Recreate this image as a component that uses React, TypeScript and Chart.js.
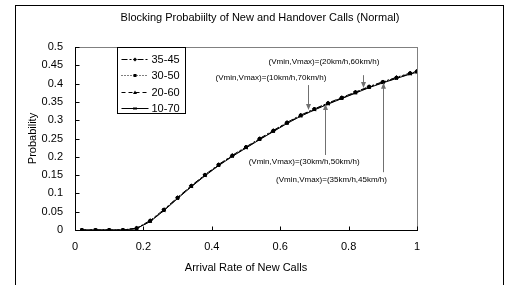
import React, { useEffect, useRef } from "react";
import { Chart, registerables } from "chart.js";
Chart.register(...registerables);

// ---- data ----
const arrivalRates = [0.02, 0.06, 0.1, 0.14, 0.18, 0.22, 0.26, 0.3, 0.34, 0.38, 0.42, 0.46, 0.5, 0.54, 0.58, 0.62, 0.66, 0.7, 0.74, 0.78, 0.82, 0.86, 0.9, 0.94, 0.98, 1.0];
const series3545 = [0, 0, 0, 0, 0.005, 0.026, 0.056, 0.089, 0.121, 0.151, 0.179, 0.204, 0.227, 0.25, 0.272, 0.294, 0.314, 0.331, 0.347, 0.362, 0.377, 0.392, 0.405, 0.417, 0.429, 0.434];
const series3050 = [0, 0, 0, 0, 0.005, 0.025, 0.055, 0.088, 0.12, 0.15, 0.178, 0.203, 0.226, 0.249, 0.271, 0.293, 0.313, 0.33, 0.346, 0.361, 0.376, 0.391, 0.404, 0.416, 0.428, 0.433];
const series2060 = [0, 0, 0, 0, 0.004, 0.024, 0.054, 0.087, 0.119, 0.149, 0.177, 0.202, 0.225, 0.248, 0.27, 0.292, 0.312, 0.329, 0.345, 0.36, 0.375, 0.39, 0.403, 0.415, 0.427, 0.432];
const series1070 = [0, 0, 0, 0, 0.004, 0.023, 0.053, 0.086, 0.118, 0.148, 0.176, 0.201, 0.224, 0.247, 0.269, 0.291, 0.311, 0.328, 0.344, 0.359, 0.374, 0.389, 0.402, 0.414, 0.426, 0.431];
const seriesLabels = ["35-45", "30-50", "20-60", "10-70"];
const xTickValues = [0, 0.2, 0.4, 0.6, 0.8, 1];
const yTickValues = [0, 0.05, 0.1, 0.15, 0.2, 0.25, 0.3, 0.35, 0.4, 0.45, 0.5];

// annotations (data coordinates)
const annotationTexts = [
  "(Vmin,Vmax)=(20km/h,60km/h)",
  "(Vmin,Vmax)=(10km/h,70km/h)",
  "(Vmin,Vmax)=(30km/h,50km/h)",
  "(Vmin,Vmax)=(35km/h,45km/h)",
];
const annotationTextX = [0.728, 0.573, 0.67, 0.75];
const annotationTextY = [0.459, 0.415, 0.186, 0.137];
const arrowX = [0.842, 0.681, 0.731, 0.9];
const arrowFromY = [0.423, 0.396, 0.205, 0.158];
const arrowToY = [0.388, 0.328, 0.344, 0.402];

const FONT = "'Liberation Sans', Arial, sans-serif";

const dashes = [[6, 2, 2, 2, 2, 2], [1, 2], [4, 3], []];
const pointStyles = ["rectRot", "rect", "triangle", "crossRot"];
const seriesValues = [series3545, series3050, series2060, series1070];

function drawMarker(ctx: CanvasRenderingContext2D, style: string, x: number, y: number, r: number) {
  ctx.save();
  ctx.fillStyle = "#000";
  ctx.strokeStyle = "#000";
  ctx.lineWidth = 1;
  ctx.setLineDash([]);
  ctx.beginPath();
  if (style === "rect") {
    ctx.fillRect(x - r, y - r, 2 * r, 2 * r);
  } else if (style === "rectRot") {
    ctx.moveTo(x, y - r - 0.5);
    ctx.lineTo(x + r + 0.5, y);
    ctx.lineTo(x, y + r + 0.5);
    ctx.lineTo(x - r - 0.5, y);
    ctx.closePath();
    ctx.fill();
  } else if (style === "triangle") {
    ctx.moveTo(x, y - r - 0.5);
    ctx.lineTo(x + r + 0.5, y + r);
    ctx.lineTo(x - r - 0.5, y + r);
    ctx.closePath();
    ctx.fill();
  } else {
    ctx.moveTo(x - r, y - r);
    ctx.lineTo(x + r, y + r);
    ctx.moveTo(x + r, y - r);
    ctx.lineTo(x - r, y + r);
    ctx.stroke();
  }
  ctx.restore();
}

const framePlugin = {
  id: "framePlugin",
  beforeDraw(chart: any) {
    const { ctx, chartArea: a } = chart;
    ctx.save();
    ctx.fillStyle = "#fff";
    ctx.fillRect(0, 0, chart.width, chart.height);
    // outer frame (no bottom edge visible)
    ctx.strokeStyle = "#000";
    ctx.lineWidth = 1;
    ctx.strokeRect(15.5, 5.5, 488, 300);
    // plot box
    ctx.strokeStyle = "#808080";
    ctx.strokeRect(Math.round(a.left) + 0.5, Math.round(a.top) + 0.5, Math.round(a.right - a.left), Math.round(a.bottom - a.top));
    ctx.restore();
  },
  beforeDatasetsDraw(chart: any) {
    const { ctx, chartArea: a, scales } = chart;
    const xs = scales.x, ys = scales.y;
    ctx.save();
    ctx.strokeStyle = "#000";
    ctx.lineWidth = 1;
    const L = Math.round(a.left) + 0.5;
    const B = Math.round(a.bottom) + 0.5;
    ctx.beginPath();
    ctx.moveTo(L, Math.round(a.top));
    ctx.lineTo(L, B);
    ctx.lineTo(Math.round(a.right) + 1, B);
    for (const v of yTickValues) {
      const y = Math.round(ys.getPixelForValue(v)) + 0.5;
      ctx.moveTo(L, y);
      ctx.lineTo(L + 4, y);
    }
    for (const v of xTickValues) {
      const x = Math.round(xs.getPixelForValue(v)) + 0.5;
      ctx.moveTo(x, B);
      ctx.lineTo(x, B - 4);
    }
    ctx.stroke();
    ctx.restore();
  },
  afterDraw(chart: any) {
    const { ctx, chartArea: a, scales } = chart;
    const xs = scales.x, ys = scales.y;
    ctx.save();
    // title
    ctx.fillStyle = "#000";
    ctx.font = `11px ${FONT}`;
    ctx.textAlign = "center";
    ctx.textBaseline = "middle";
    ctx.fillText("Blocking Probabiilty of New and Handover Calls (Normal)", 260, 18);
    // x title
    ctx.fillText("Arrival Rate of New Calls", (a.left + a.right) / 2, 268);
    // y title
    ctx.save();
    ctx.translate(33, (a.top + a.bottom) / 2);
    ctx.rotate(-Math.PI / 2);
    ctx.fillText("Probability", 0, 0);
    ctx.restore();

    // legend
    const lx = Math.round(a.left) + 42.5;
    const ly = Math.round(a.top) + 0.5;
    const lw = 68, lh = 66;
    ctx.fillStyle = "#fff";
    ctx.fillRect(lx, ly, lw, lh);
    ctx.strokeStyle = "#000";
    ctx.lineWidth = 1;
    ctx.strokeRect(lx, ly, lw, lh);
    seriesLabels.forEach((lab, i) => {
      const cy = Math.round(ly + 11 + i * 16.5) + 0.5;
      ctx.save();
      ctx.strokeStyle = "#000";
      ctx.setLineDash(dashes[i]);
      ctx.beginPath();
      ctx.moveTo(lx + 4, cy);
      ctx.lineTo(lx + 31, cy);
      ctx.stroke();
      ctx.restore();
      drawMarker(ctx, pointStyles[i], lx + 17.5, cy, 1.5);
      ctx.fillStyle = "#000";
      ctx.font = `11px ${FONT}`;
      ctx.textAlign = "left";
      ctx.textBaseline = "middle";
      ctx.fillText(lab, lx + 34, cy);
    });

    // annotations
    ctx.font = `8px ${FONT}`;
    ctx.textAlign = "center";
    ctx.textBaseline = "middle";
    annotationTexts.forEach((t, i) => {
      ctx.fillStyle = "#000";
      ctx.fillText(t, xs.getPixelForValue(annotationTextX[i]), ys.getPixelForValue(annotationTextY[i]));
      const x = Math.round(xs.getPixelForValue(arrowX[i])) + 0.5;
      const y1 = ys.getPixelForValue(arrowFromY[i]);
      const y2 = ys.getPixelForValue(arrowToY[i]);
      const dir = y2 > y1 ? 1 : -1;
      ctx.strokeStyle = "#707070";
      ctx.fillStyle = "#707070";
      ctx.lineWidth = 1;
      ctx.beginPath();
      ctx.moveTo(x, y1);
      ctx.lineTo(x, y2 - dir * 5);
      ctx.stroke();
      ctx.beginPath();
      ctx.moveTo(x, y2);
      ctx.lineTo(x - 2.5, y2 - dir * 6);
      ctx.lineTo(x + 2.5, y2 - dir * 6);
      ctx.closePath();
      ctx.fill();
    });
    ctx.restore();
  },
};

export default function App() {
  const ref = useRef<HTMLCanvasElement | null>(null);
  useEffect(() => {
    if (!ref.current) return;
    const chart = new Chart(ref.current, {
      type: "line",
      data: {
        datasets: seriesLabels.map((lab, i) => ({
          label: lab,
          data: arrivalRates.map((x, j) => ({ x, y: seriesValues[i][j] })),
          borderColor: "#000",
          backgroundColor: "#000",
          borderWidth: 1,
          borderDash: dashes[i],
          pointStyle: pointStyles[i] as any,
          pointRadius: 1.8,
          pointBorderWidth: 1,
          pointBackgroundColor: "#000",
          pointBorderColor: "#000",
          tension: 0,
          fill: false,
        })),
      },
      options: {
        animation: false,
        responsive: false,
        devicePixelRatio: 1,
        layout: { padding: { left: 20, top: 47, right: 94, bottom: 0 } },
        plugins: { legend: { display: false }, tooltip: { enabled: false }, title: { display: false } },
        scales: {
          x: {
            type: "linear",
            min: 0,
            max: 1,
            afterFit: (s: any) => { s.height = 55; },
            afterBuildTicks: (s: any) => { s.ticks = xTickValues.map((v) => ({ value: v })); },
            grid: { display: false, drawTicks: false },
            border: { display: false },
            ticks: {
              padding: 10,
              color: "#000",
              font: { family: FONT, size: 11 },
              callback: (v: any) => String(Math.round(Number(v) * 100) / 100),
              maxRotation: 0,
            },
          },
          y: {
            type: "linear",
            min: 0,
            max: 0.5,
            afterFit: (s: any) => { s.width = 55; },
            afterBuildTicks: (s: any) => { s.ticks = yTickValues.map((v) => ({ value: v })); },
            grid: { display: false, drawTicks: false },
            border: { display: false },
            ticks: {
              padding: 12,
              color: "#000",
              font: { family: FONT, size: 11 },
              callback: (v: any) => String(Math.round(Number(v) * 100) / 100),
            },
          },
        },
      },
      plugins: [framePlugin],
    });
    return () => chart.destroy();
  }, []);
  return (
    <div style={{ position: "fixed", left: 0, top: 0, width: 511, height: 285, background: "#fff" }}>
      <canvas ref={ref} width={511} height={285} style={{ display: "block", width: 511, height: 285 }} />
    </div>
  );
}
